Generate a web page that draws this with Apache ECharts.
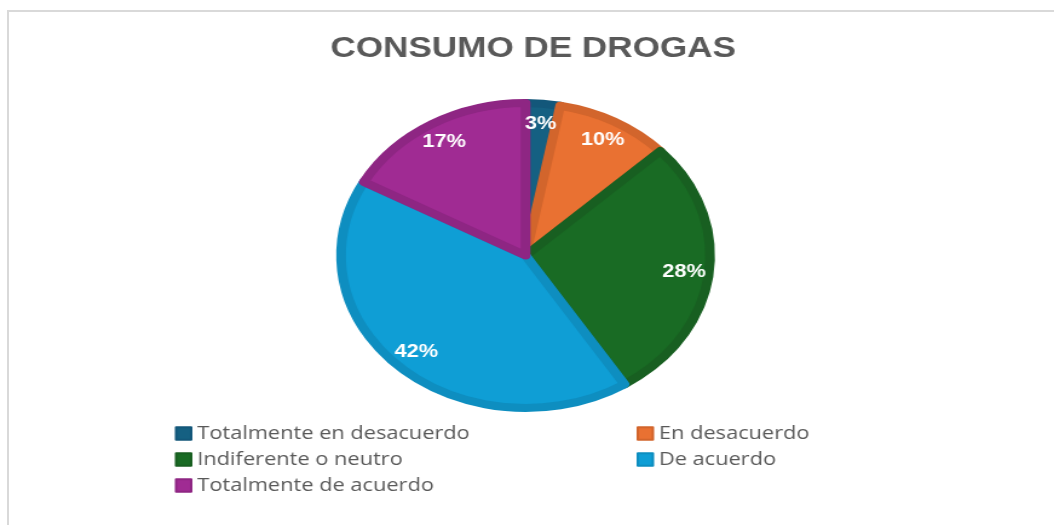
<!DOCTYPE html>
<html>
<head>
<meta charset="utf-8">
<script src="https://cdn.jsdelivr.net/npm/echarts@6/dist/echarts.min.js"></script>
<style>
  html, body { margin: 0; padding: 0; background: #fff; overflow: hidden; }
  #frame { position: absolute; left: 7px; top: 10px; width: 1100px; height: 600px;
           border-left: 2px solid #d9d9d9; border-top: 2px solid #d9d9d9; }
  /* la captura original esta estirada en horizontal */
  #chart { position: absolute; left: 0; top: 0; width: 871px; height: 525px;
           transform: scaleX(1.2102); transform-origin: 0 0; }
</style>
</head>
<body>
<div id="frame"></div>
<div id="chart"></div>
<script>
var titulo = 'CONSUMO DE DROGAS';
var categorias = ['Totalmente en desacuerdo', 'En desacuerdo', 'Indiferente o neutro', 'De acuerdo', 'Totalmente de acuerdo'];
var valores = [3, 10, 28, 42, 17];
var colores = ['#156082', '#E97132', '#196B24', '#0F9ED5', '#A02B93'];
var bordes = ['#13577a', '#d2652c', '#185f21', '#0e8ec0', '#8e2683'];

var datos = [];
for (var i = 0; i < categorias.length; i++) {
    datos.push({
        name: categorias[i],
        value: valores[i],
        itemStyle: { color: colores[i], borderColor: bordes[i] }
    });
}

var myChart = echarts.init(document.getElementById('chart'), null, { renderer: 'canvas' });
var estiloLeyenda = { fontFamily: 'Open Sans', fontSize: 18, lineHeight: 17, color: '#595959' };
var option = {
    animation: false,
    title: {
        text: titulo,
        left: 273,
        top: 34,
        padding: 0,
        textStyle: { fontFamily: 'Liberation Sans', fontWeight: 'bold', fontSize: 29, color: '#595959' }
    },
    legend: [
        {
            orient: 'vertical', left: 144.5, top: 424.5, padding: 0,
            data: [categorias[0], categorias[2], categorias[4]],
            itemWidth: 12.5, itemHeight: 12.5, itemGap: 8, icon: 'rect',
            textStyle: estiloLeyenda
        },
        {
            orient: 'vertical', left: 526, top: 424.5, padding: 0,
            data: [categorias[1], categorias[3]],
            itemWidth: 12.5, itemHeight: 12.5, itemGap: 8, icon: 'rect',
            textStyle: estiloLeyenda
        }
    ],
    series: [
        {
            type: 'pie',
            center: [434.3, 255.5],
            radius: [0, 152.5],
            startAngle: 90,
            clockwise: true,
            itemStyle: { borderWidth: 8 },
            label: { show: false },
            labelLine: { show: false },
            emphasis: { disabled: true },
            data: datos
        },
        {
            // serie solo para colocar las etiquetas mas hacia fuera
            type: 'pie',
            center: [434.3, 255.5],
            radius: [100, 158],
            startAngle: 90,
            clockwise: true,
            silent: true,
            legendHoverLink: false,
            percentPrecision: 0,
            itemStyle: { color: 'rgba(0,0,0,0)', borderWidth: 0 },
            label: {
                show: true, position: 'inside', formatter: '{d}%',
                fontFamily: 'Liberation Sans', fontWeight: 'bold', fontSize: 18, color: '#ffffff'
            },
            labelLine: { show: false },
            emphasis: { disabled: true },
            data: categorias.map(function (c, i) { return { name: c, value: valores[i] }; })
        }
    ]
};
myChart.setOption(option);
</script>
</body>
</html>
